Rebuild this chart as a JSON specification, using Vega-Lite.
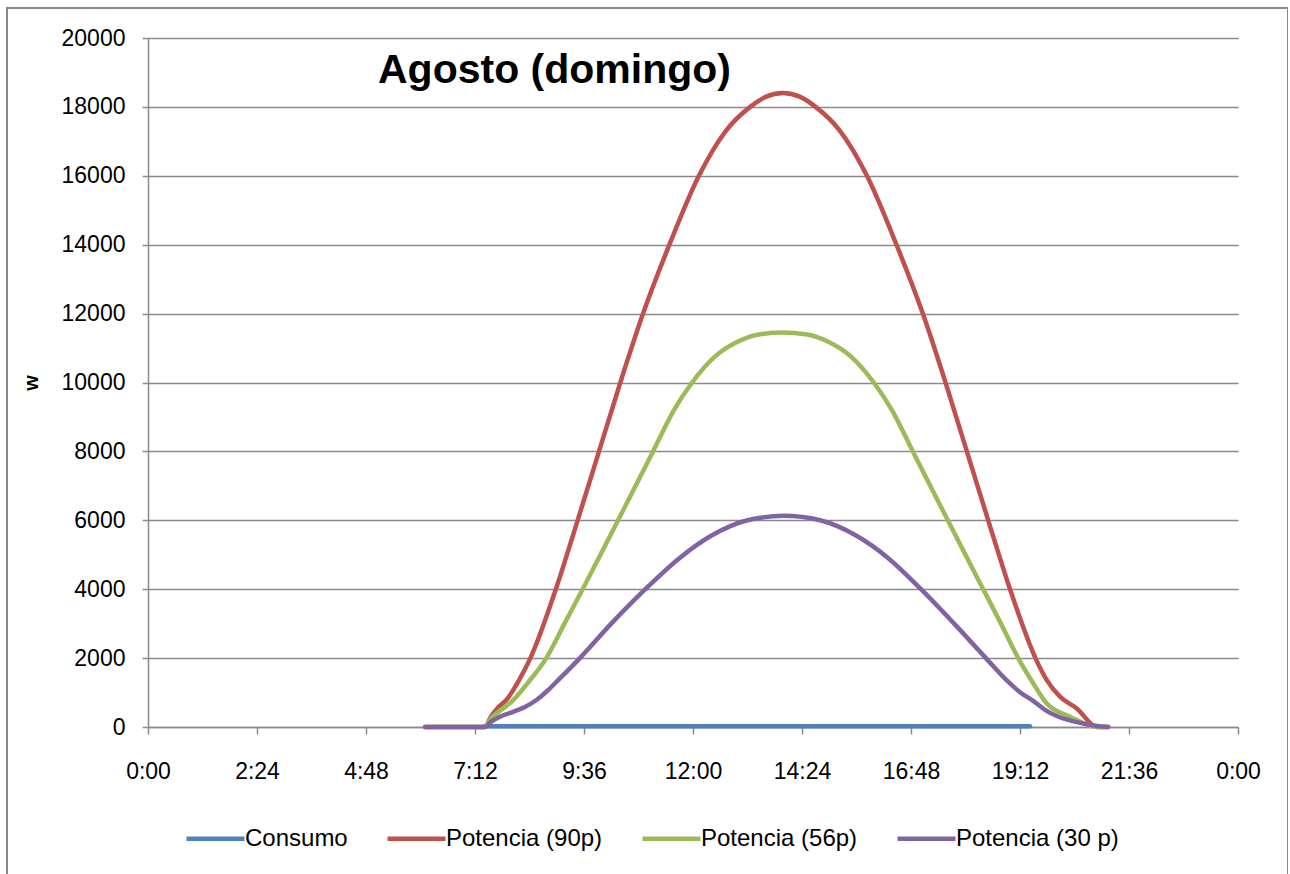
{
  "$schema": "https://vega.github.io/schema/vega-lite/v6.json",
  "width": 1281,
  "height": 867,
  "autosize": {"type": "none"},
  "padding": {"left": 7, "top": 8, "right": 0, "bottom": 0},
  "background": "white",
  "title": {"text": "Agosto (domingo)", "anchor": "start", "frame": "group", "orient": "top", "dx": 371, "dy": 116, "offset": 0, "baseline": "alphabetic", "font": "Liberation Sans", "fontSize": 41, "fontWeight": "bold", "color": "black"},
  "config": {
    "view": {"stroke": "#8a8a8a", "strokeWidth": 2, "fill": "white"},
    "font": "Liberation Sans"
  },
  "data": {"values": [
    {"hora": 7.42, "w": 20, "serie": "Consumo"},
    {"hora": 8, "w": 20, "serie": "Consumo"},
    {"hora": 9, "w": 20, "serie": "Consumo"},
    {"hora": 10, "w": 20, "serie": "Consumo"},
    {"hora": 11, "w": 20, "serie": "Consumo"},
    {"hora": 12, "w": 20, "serie": "Consumo"},
    {"hora": 13, "w": 20, "serie": "Consumo"},
    {"hora": 14, "w": 20, "serie": "Consumo"},
    {"hora": 15, "w": 20, "serie": "Consumo"},
    {"hora": 16, "w": 20, "serie": "Consumo"},
    {"hora": 17, "w": 20, "serie": "Consumo"},
    {"hora": 18, "w": 20, "serie": "Consumo"},
    {"hora": 19, "w": 20, "serie": "Consumo"},
    {"hora": 19.42, "w": 20, "serie": "Consumo"},

    {"hora": 6.1, "w": 0, "serie": "Potencia (90p)"},
    {"hora": 7.42, "w": 0, "serie": "Potencia (90p)"},
    {"hora": 7.55, "w": 300, "serie": "Potencia (90p)"},
    {"hora": 7.7, "w": 550, "serie": "Potencia (90p)"},
    {"hora": 7.9, "w": 800, "serie": "Potencia (90p)"},
    {"hora": 8.17, "w": 1360, "serie": "Potencia (90p)"},
    {"hora": 8.42, "w": 2000, "serie": "Potencia (90p)"},
    {"hora": 8.98, "w": 4000, "serie": "Potencia (90p)"},
    {"hora": 9.46, "w": 6000, "serie": "Potencia (90p)"},
    {"hora": 9.93, "w": 8000, "serie": "Potencia (90p)"},
    {"hora": 10.4, "w": 10000, "serie": "Potencia (90p)"},
    {"hora": 10.9, "w": 12000, "serie": "Potencia (90p)"},
    {"hora": 11.48, "w": 14000, "serie": "Potencia (90p)"},
    {"hora": 12.13, "w": 16000, "serie": "Potencia (90p)"},
    {"hora": 12.72, "w": 17300, "serie": "Potencia (90p)"},
    {"hora": 13.26, "w": 18000, "serie": "Potencia (90p)"},
    {"hora": 13.6, "w": 18290, "serie": "Potencia (90p)"},
    {"hora": 13.98, "w": 18400, "serie": "Potencia (90p)"},
    {"hora": 14.36, "w": 18290, "serie": "Potencia (90p)"},
    {"hora": 14.7, "w": 18000, "serie": "Potencia (90p)"},
    {"hora": 15.24, "w": 17300, "serie": "Potencia (90p)"},
    {"hora": 15.83, "w": 16000, "serie": "Potencia (90p)"},
    {"hora": 16.48, "w": 14000, "serie": "Potencia (90p)"},
    {"hora": 17.06, "w": 12000, "serie": "Potencia (90p)"},
    {"hora": 17.56, "w": 10000, "serie": "Potencia (90p)"},
    {"hora": 18.03, "w": 8000, "serie": "Potencia (90p)"},
    {"hora": 18.5, "w": 6000, "serie": "Potencia (90p)"},
    {"hora": 18.98, "w": 4000, "serie": "Potencia (90p)"},
    {"hora": 19.54, "w": 2000, "serie": "Potencia (90p)"},
    {"hora": 19.79, "w": 1360, "serie": "Potencia (90p)"},
    {"hora": 20.08, "w": 880, "serie": "Potencia (90p)"},
    {"hora": 20.45, "w": 540, "serie": "Potencia (90p)"},
    {"hora": 20.9, "w": 0, "serie": "Potencia (90p)"},
    {"hora": 21.14, "w": 0, "serie": "Potencia (90p)"},

    {"hora": 6.1, "w": 0, "serie": "Potencia (56p)"},
    {"hora": 7.42, "w": 0, "serie": "Potencia (56p)"},
    {"hora": 7.55, "w": 250, "serie": "Potencia (56p)"},
    {"hora": 7.68, "w": 400, "serie": "Potencia (56p)"},
    {"hora": 8.04, "w": 780, "serie": "Potencia (56p)"},
    {"hora": 8.35, "w": 1260, "serie": "Potencia (56p)"},
    {"hora": 8.77, "w": 2000, "serie": "Potencia (56p)"},
    {"hora": 9.17, "w": 3000, "serie": "Potencia (56p)"},
    {"hora": 9.57, "w": 4000, "serie": "Potencia (56p)"},
    {"hora": 10.35, "w": 6000, "serie": "Potencia (56p)"},
    {"hora": 11.12, "w": 8000, "serie": "Potencia (56p)"},
    {"hora": 11.58, "w": 9200, "serie": "Potencia (56p)"},
    {"hora": 11.98, "w": 10000, "serie": "Potencia (56p)"},
    {"hora": 12.48, "w": 10750, "serie": "Potencia (56p)"},
    {"hora": 12.98, "w": 11180, "serie": "Potencia (56p)"},
    {"hora": 13.48, "w": 11400, "serie": "Potencia (56p)"},
    {"hora": 13.98, "w": 11450, "serie": "Potencia (56p)"},
    {"hora": 14.48, "w": 11400, "serie": "Potencia (56p)"},
    {"hora": 14.98, "w": 11180, "serie": "Potencia (56p)"},
    {"hora": 15.48, "w": 10750, "serie": "Potencia (56p)"},
    {"hora": 15.98, "w": 10000, "serie": "Potencia (56p)"},
    {"hora": 16.38, "w": 9200, "serie": "Potencia (56p)"},
    {"hora": 16.84, "w": 8000, "serie": "Potencia (56p)"},
    {"hora": 17.61, "w": 6000, "serie": "Potencia (56p)"},
    {"hora": 18.39, "w": 4000, "serie": "Potencia (56p)"},
    {"hora": 18.78, "w": 3000, "serie": "Potencia (56p)"},
    {"hora": 19.16, "w": 2000, "serie": "Potencia (56p)"},
    {"hora": 19.5, "w": 1250, "serie": "Potencia (56p)"},
    {"hora": 19.79, "w": 680, "serie": "Potencia (56p)"},
    {"hora": 20.3, "w": 300, "serie": "Potencia (56p)"},
    {"hora": 20.9, "w": 0, "serie": "Potencia (56p)"},
    {"hora": 21.14, "w": 0, "serie": "Potencia (56p)"},

    {"hora": 6.1, "w": 0, "serie": "Potencia (30 p)"},
    {"hora": 7.42, "w": 0, "serie": "Potencia (30 p)"},
    {"hora": 7.55, "w": 150, "serie": "Potencia (30 p)"},
    {"hora": 7.75, "w": 300, "serie": "Potencia (30 p)"},
    {"hora": 8.04, "w": 440, "serie": "Potencia (30 p)"},
    {"hora": 8.3, "w": 580, "serie": "Potencia (30 p)"},
    {"hora": 8.56, "w": 790, "serie": "Potencia (30 p)"},
    {"hora": 8.8, "w": 1060, "serie": "Potencia (30 p)"},
    {"hora": 9.03, "w": 1360, "serie": "Potencia (30 p)"},
    {"hora": 9.51, "w": 2000, "serie": "Potencia (30 p)"},
    {"hora": 10.2, "w": 3000, "serie": "Potencia (30 p)"},
    {"hora": 10.95, "w": 4000, "serie": "Potencia (30 p)"},
    {"hora": 11.7, "w": 4900, "serie": "Potencia (30 p)"},
    {"hora": 12.4, "w": 5550, "serie": "Potencia (30 p)"},
    {"hora": 13.2, "w": 6000, "serie": "Potencia (30 p)"},
    {"hora": 14.0, "w": 6130, "serie": "Potencia (30 p)"},
    {"hora": 14.8, "w": 6000, "serie": "Potencia (30 p)"},
    {"hora": 15.6, "w": 5550, "serie": "Potencia (30 p)"},
    {"hora": 16.3, "w": 4900, "serie": "Potencia (30 p)"},
    {"hora": 17.02, "w": 4000, "serie": "Potencia (30 p)"},
    {"hora": 17.75, "w": 3000, "serie": "Potencia (30 p)"},
    {"hora": 18.45, "w": 2000, "serie": "Potencia (30 p)"},
    {"hora": 18.95, "w": 1300, "serie": "Potencia (30 p)"},
    {"hora": 19.2, "w": 1010, "serie": "Potencia (30 p)"},
    {"hora": 19.49, "w": 760, "serie": "Potencia (30 p)"},
    {"hora": 19.75, "w": 500, "serie": "Potencia (30 p)"},
    {"hora": 20.01, "w": 320, "serie": "Potencia (30 p)"},
    {"hora": 20.45, "w": 140, "serie": "Potencia (30 p)"},
    {"hora": 20.9, "w": 30, "serie": "Potencia (30 p)"},
    {"hora": 21.14, "w": 0, "serie": "Potencia (30 p)"}
  ]},
  "mark": {"type": "line", "interpolate": "monotone", "strokeWidth": 4.5, "strokeCap": "round", "strokeJoin": "round"},
  "encoding": {
    "x": {
      "field": "hora", "type": "quantitative",
      "scale": {"domain": [0, 24], "range": [141, 1231], "nice": false, "zero": false},
      "axis": {
        "orient": "bottom", "offset": -148, "title": null,
        "values": [0, 2.4, 4.8, 7.2, 9.6, 12, 14.4, 16.8, 19.2, 21.6, 24],
        "labelExpr": "(floor(datum.value) % 24) + ':' + (round((datum.value % 1) * 60) < 10 ? '0' : '') + round((datum.value % 1) * 60)",
        "grid": false, "domain": true, "domainColor": "#8a8a8a", "domainWidth": 1.5,
        "ticks": true, "tickColor": "#8a8a8a", "tickWidth": 1.5, "tickSize": 7,
        "labelFont": "Liberation Sans", "labelFontSize": 23, "labelColor": "black",
        "labelPadding": 26, "labelFlush": false, "labelOverlap": false
      }
    },
    "y": {
      "field": "w", "type": "quantitative",
      "scale": {"domain": [0, 20000], "range": [719, 30], "nice": false},
      "axis": {
        "orient": "left", "offset": -141, "title": "w",
        "titleFont": "Liberation Sans", "titleFontSize": 20, "titleFontWeight": "bold", "titleColor": "black", "titlePadding": 20,
        "values": [0, 2000, 4000, 6000, 8000, 10000, 12000, 14000, 16000, 18000, 20000],
        "format": "d",
        "grid": true, "gridColor": "#8a8a8a", "gridWidth": 1.5,
        "domain": true, "domainColor": "#8a8a8a", "domainWidth": 1.5,
        "ticks": true, "tickColor": "#8a8a8a", "tickWidth": 1.5, "tickSize": 6,
        "labelFont": "Liberation Sans", "labelFontSize": 23, "labelColor": "black",
        "labelPadding": 17, "labelFlush": false, "labelOverlap": false
      }
    },
    "color": {
      "field": "serie", "type": "nominal",
      "scale": {
        "domain": ["Consumo", "Potencia (90p)", "Potencia (56p)", "Potencia (30 p)"],
        "range": ["#4F81BD", "#C0504D", "#9BBB59", "#8064A2"]
      },
      "legend": {
        "orient": "none", "legendX": 177, "legendY": 799, "direction": "horizontal", "columns": 4,
        "title": null, "symbolType": "stroke", "symbolSize": 3364, "symbolStrokeWidth": 4.5,
        "labelFont": "Liberation Sans", "labelFontSize": 24, "labelColor": "black",
        "labelOffset": -2, "columnPadding": 30, "padding": 0, "labelLimit": 400
      }
    }
  }
}
